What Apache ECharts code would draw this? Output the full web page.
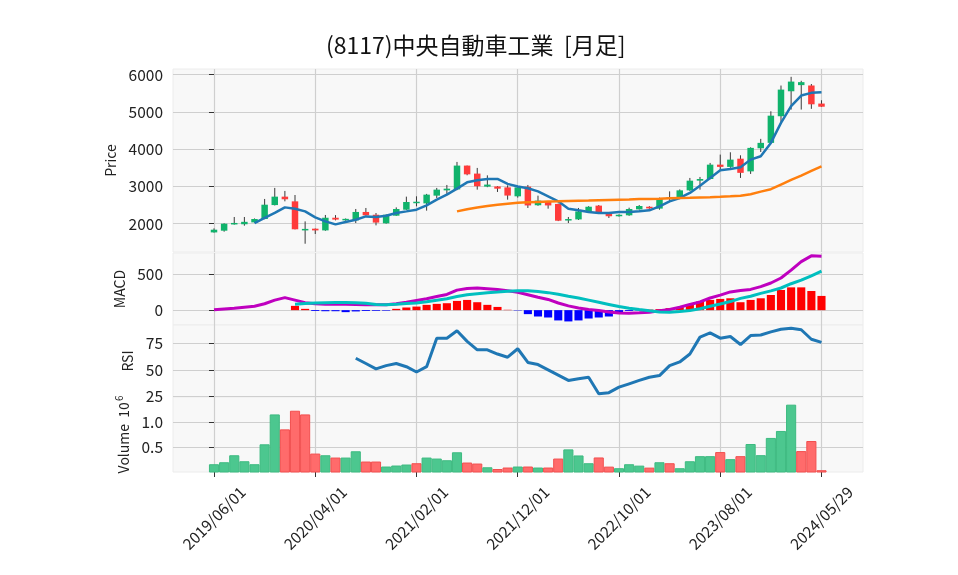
<!DOCTYPE html>
<html><head><meta charset="utf-8">
<script src="https://cdn.jsdelivr.net/npm/echarts@6/dist/echarts.min.js"></script>
<style>html,body{margin:0;padding:0;background:#fff}#c{width:958px;height:575px}</style>
</head><body><div id="c"></div>
<script>
const tickIdx = [0,10,20,30,40,50,60];
const tickLabels = ['2019/06/01','2020/04/01','2021/02/01','2021/12/01','2022/10/01','2023/08/01','2024/05/29'];
const opens  = [1766,1812,1985,1985,2035,2126,2500,2726,2600,1850,1866,1820,2160,2100,2090,2315,2240,2010,2215,2376,2565,2545,2753,2895,2920,3560,3345,2995,3000,2975,2735,2995,2495,2600,2530,2085,2115,2330,2485,2270,2200,2225,2385,2455,2405,2665,2672,2895,3155,3200,3585,3525,3745,3405,4025,4170,4885,5555,5720,5710,5225];
const closes = [1839,2000,2020,2050,2126,2510,2726,2655,1850,1860,1820,2160,2110,2130,2315,2225,2030,2240,2395,2583,2590,2780,2914,2940,3560,3325,3005,3050,2940,2755,2975,2490,2620,2490,2080,2125,2330,2455,2290,2200,2240,2395,2475,2410,2690,2705,2895,3155,3200,3585,3525,3720,3365,4035,4170,4900,5600,5815,5800,5205,5140];
const highs  = [1874,2010,2180,2180,2140,2664,2960,2879,2770,2062,1870,2234,2230,2140,2395,2422,2287,2250,2438,2726,2735,2800,2960,3040,3658,3560,3497,3298,3010,3030,3000,3040,2753,2610,2540,2180,2422,2470,2500,2280,2250,2430,2500,2470,2700,2868,2920,3228,3255,3631,3855,3917,3836,4050,4277,5018,5709,5943,5836,5750,5314];
const lows   = [1760,1785,1975,1946,2030,2120,2490,2600,1847,1462,1723,1810,2089,2080,2018,2220,1955,2000,2210,2370,2466,2350,2690,2800,2900,3300,2914,2980,2852,2645,2700,2422,2480,2403,2070,2018,2100,2320,2280,2153,2190,2210,2380,2400,2376,2600,2660,2880,2914,3190,3425,3500,3228,3336,3925,4150,4706,5064,5064,5083,5137];
const maShort = [null,null,null,null,2018,2153,2288,2438,2403,2331,2169,2062,1981,2046,2107,2196,2180,2215,2288,2331,2376,2492,2645,2780,2941,3110,3164,3201,3201,3070,3000,2950,2868,2734,2600,2403,2358,2314,2287,2287,2314,2314,2331,2358,2466,2600,2690,2825,3021,3228,3433,3470,3513,3720,3809,4169,4707,5154,5441,5513,5530];
const maLong = [null,null,null,null,null,null,null,null,null,null,null,null,null,null,null,null,null,null,null,null,null,null,null,null,2330,2390,2435,2475,2510,2535,2560,2575,2585,2595,2600,2610,2615,2620,2630,2638,2645,2652,2660,2665,2672,2680,2688,2695,2705,2712,2720,2734,2750,2790,2860,2925,3050,3175,3290,3415,3540];
const macdLine = [5,15,25,40,55,90,140,175,140,105,88,84,83,82,80,76,74,76,90,110,135,160,190,220,280,303,310,300,290,270,250,215,180,150,100,60,30,10,-5,-25,-40,-42,-38,-28,-10,10,40,80,115,170,210,255,275,290,330,380,450,560,680,760,755];
const signalLine = [null,null,null,null,null,null,null,null,83,93,100,105,106,106,104,97,80,75,82,92,100,118,140,160,190,215,230,245,255,266,272,273,262,245,222,195,170,140,110,80,50,28,8,-10,-25,-28,-20,-5,20,55,85,120,165,195,235,270,310,370,420,480,545];
const macdHist = [null,null,null,null,null,null,null,null,60,18,-12,-15,-15,-28,-18,-12,-10,-8,18,37,50,74,88,97,129,143,111,74,45,5,-5,-56,-89,-103,-144,-158,-144,-117,-103,-89,-28,-12,-5,8,14,28,41,83,120,143,157,166,111,143,166,212,282,319,319,268,199];
const rsi = [null,null,null,null,null,null,null,null,null,null,null,null,null,null,61,56,51,54,56,53,48,53,80,80,87,77,69,69,65,62,70,57,55,50,45,40,41.5,43,27.4,28.4,33.6,36.8,40,43,44.6,54,57.5,65,81,85,80,81.6,74,82.5,83,86,88.5,89.5,88,79,76];
const volume = [0.146,0.186,0.326,0.206,0.146,0.546,1.146,0.846,1.22,1.146,0.36,0.326,0.28,0.28,0.406,0.2,0.2,0.1,0.12,0.14,0.166,0.28,0.26,0.226,0.386,0.18,0.16,0.085,0.05,0.08,0.1,0.1,0.08,0.08,0.26,0.444,0.322,0.166,0.282,0.098,0.066,0.146,0.118,0.078,0.186,0.166,0.066,0.206,0.308,0.308,0.39,0.248,0.308,0.552,0.328,0.674,0.814,1.342,0.41,0.612,0.026];
const volUp = [1,1,1,1,1,1,1,0,0,0,0,1,0,1,1,0,0,1,1,1,0,1,1,1,1,0,0,1,0,0,1,0,1,0,0,1,1,1,0,0,1,1,1,0,1,0,1,1,1,1,0,1,0,1,1,1,1,1,0,0,0];
const priceTicks = [2000,3000,4000,5000,6000];
const macdTicks = [0,500];
const rsiTicks = [25,50,75];
const volTicks = [0.5,1.0];

const FONT = 'Noto Sans CJK JP';
const FS = 15.5;
const NFS = 14;
const chart = echarts.init(document.getElementById('c'), null, {renderer:'canvas'});
const L = 173, W = 690;
const grids = [
  {left:L, width:W, top:69, height:183},
  {left:L, width:W, top:253, height:72},
  {left:L, width:W, top:325, height:72},
  {left:L, width:W, top:397, height:75}
].map(g => Object.assign(g, {show:true, backgroundColor:'#f8f8f8', borderColor:'#ececec', borderWidth:1, containLabel:false}));

function xAxis(gi, showLabels) {
  return {
    type:'value', gridIndex:gi, min:-4.05, max:64.1,
    axisLine:{show:false},
    axisTick:{show:showLabels, length:5, lineStyle:{color:'#333', width:1}, customValues: tickIdx},
    axisLabel:{show:showLabels, customValues: tickIdx, rotate:45, align:'center', verticalAlign:'middle', margin:46,
      fontFamily:FONT, fontSize:FS, color:'#222',
      formatter: v => tickLabels[tickIdx.indexOf(Math.round(v))] || ''},
    splitLine:{show:true, lineStyle:{color:'#cfcfcf', width:1.2}}
  };
}
function yAxis(gi, min, max, ticks, name, gap, fmt) {
  return {
    type:'value', gridIndex:gi, min:min, max:max,
    name:name, nameLocation:'middle', nameRotate:90, nameGap:gap,
    nameTextStyle:{fontFamily:FONT, fontSize:NFS, color:'#222',
      rich:{sup:{fontFamily:FONT, fontSize:10, color:'#222', verticalAlign:'top', padding:[0,0,8,1]}, n:{fontFamily:FONT, fontSize:NFS, color:'#222'}}},
    axisLine:{show:false},
    axisTick:{show:true, length:5, lineStyle:{color:'#333', width:1}, customValues:ticks},
    axisLabel:{customValues:ticks, margin:10, fontFamily:FONT, fontSize:FS, color:'#222', formatter: fmt || (v => String(v))},
    splitLine:{show:true, lineStyle:{color:'#cfcfcf', width:1.2}}
  };
}

const candleData = opens.map((o,i) => [i, o, closes[i], lows[i], highs[i]]);
const pts = arr => arr.map((v,i) => [i, v]).filter(p => p[1] !== null);

function renderCandle(params, api) {
  const i = api.value(0), o = api.value(1), c = api.value(2), lo = api.value(3), hi = api.value(4);
  const pO = api.coord([i,o]), pC = api.coord([i,c]), pL = api.coord([i,lo]), pH = api.coord([i,hi]);
  const w = api.size([1,0])[0] * 0.64;
  const up = c >= o;
  const top = Math.min(pO[1], pC[1]), bot = Math.max(pO[1], pC[1]);
  return {type:'group', children:[
    {type:'line', shape:{x1:pH[0], y1:pH[1], x2:pL[0], y2:pL[1]}, style:{stroke:'#3a3a3a', lineWidth:1}},
    {type:'rect', shape:{x:pO[0]-w/2, y:top, width:w, height:Math.max(bot-top,1.5)}, style:{fill: up ? '#10b36c' : '#ff3b3b'}}
  ]};
}
function renderHist(params, api) {
  const i = api.value(0), v = api.value(1);
  const p0 = api.coord([i,0]), p1 = api.coord([i,v]);
  const w = api.size([1,0])[0] * 0.8;
  return {type:'rect', shape:{x:p0[0]-w/2, y:Math.min(p0[1],p1[1]), width:w, height:Math.abs(p1[1]-p0[1])},
    style:{fill: v >= 0 ? '#ff0000' : '#0000ff'}};
}
function renderVol(params, api) {
  const i = api.value(0), v = api.value(1), up = api.value(2);
  const p0 = api.coord([i,0]), p1 = api.coord([i,v]);
  const w = api.size([1,0])[0];
  return {type:'rect', shape:{x:p0[0]-w/2+0.5, y:p1[1], width:w-1, height:p0[1]-p1[1]},
    style:{fill: up ? '#4cc78f' : '#ff6b6b', stroke: up ? '#3dba80' : '#f24f4f', lineWidth:1}};
}

const option = {
  animation:false,
  backgroundColor:'#ffffff',
  title:{text:'(8117)中央自動車工業  [月足]', left:321, top:29, textStyle:{fontFamily:FONT, fontSize:23, fontWeight:'normal', color:'#111'}},
  grid:grids,
  xAxis:[xAxis(0,false), xAxis(1,false), xAxis(2,false), xAxis(3,true)],
  yAxis:[
    yAxis(0, 1240, 6153, priceTicks, 'Price', 44.5),
    yAxis(1, -208, 800, macdTicks, 'MACD', 35.5),
    yAxis(2, 24.3, 92.5, rsiTicks, 'RSI', 28),
    yAxis(3, 0, 1.506, volTicks, '{n|Volume  10}{sup|6}', 35.5, v => v.toFixed(1))
  ],
  series:[
    {type:'custom', xAxisIndex:0, yAxisIndex:0, data:candleData, renderItem:renderCandle, encode:{x:0, y:[1,2,3,4]}, z:2},
    {type:'line', xAxisIndex:0, yAxisIndex:0, data:pts(maShort), showSymbol:false, lineStyle:{color:'#1f77b4', width:2.5}, z:3},
    {type:'line', xAxisIndex:0, yAxisIndex:0, data:pts(maLong), showSymbol:false, lineStyle:{color:'#ff7f0e', width:2.5}, z:3},
    {type:'custom', xAxisIndex:1, yAxisIndex:1, data:pts(macdHist), renderItem:renderHist, encode:{x:0, y:1}, z:2},
    {type:'line', xAxisIndex:1, yAxisIndex:1, data:pts(macdLine), showSymbol:false, lineStyle:{color:'#bf00bf', width:3}, z:3},
    {type:'line', xAxisIndex:1, yAxisIndex:1, data:pts(signalLine), showSymbol:false, lineStyle:{color:'#00bfbf', width:3}, z:3},
    {type:'line', xAxisIndex:2, yAxisIndex:2, data:pts(rsi), showSymbol:false, lineStyle:{color:'#1f77b4', width:3}, z:3},
    {type:'custom', xAxisIndex:3, yAxisIndex:3, data:volume.map((v,i) => [i, v, volUp[i]]), renderItem:renderVol, encode:{x:0, y:1}, z:2}
  ]
};
chart.setOption(option);
</script></body></html>
